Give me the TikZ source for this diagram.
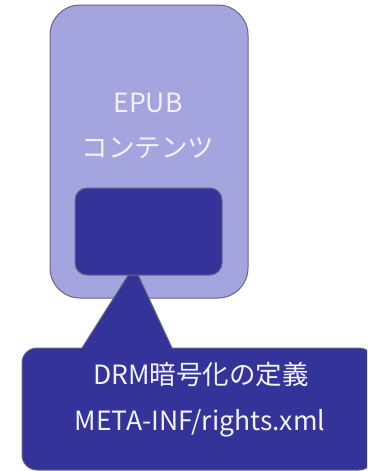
\documentclass[tikz,border=0pt]{standalone}
\usepackage{fontspec}
\usetikzlibrary{calc}
\setmainfont{Noto Sans CJK JP}
\begin{document}
\begin{tikzpicture}[x=1pt,y=-1pt,
  edge/.style={draw=black!80!blue!60,line width=1pt},
  outerbox/.style={edge,fill=outerfill,rounded corners=30pt},
  innerbox/.style={edge,fill=darkfill,rounded corners=12pt},
  calloutbox/.style={edge,fill=darkfill,rounded corners=15pt},
  txt/.style={text=txtcol,font=\fontsize{26.5pt}{30pt}\selectfont,inner sep=0pt}]
\definecolor{outerfill}{HTML}{A4A4DE}
\definecolor{darkfill}{HTML}{333399}
\definecolor{txtcol}{HTML}{F2F2FF}
\useasboundingbox (0,0) rectangle (367,471);
\clip (0,0) rectangle (367,471);
% outer EPUB box
\path[outerbox] (50,5) rectangle (248,298);
\node[txt,anchor=base] (epub) at (148,112) {EPUB};
\node[txt,anchor=base] (contents) at (148,157) {コンテンツ};
% callout with pointer
\path[calloutbox] (22,348) rectangle (374,470);
\coordinate (apex) at (134,266);
\coordinate (baseL) at (82,348);
\coordinate (baseR) at (172,348);
\fill[darkfill] (apex) -- ($(apex)!1.02!(baseL)$) -- ($(apex)!1.02!(baseR)$) -- cycle;
\draw[edge,line cap=round] (baseL) -- (apex) -- (baseR);
% inner DRM box (on top of the pointer tip)
\path[innerbox] (75,188) rectangle (222,275);
\node[txt,anchor=base] (drm) at (201,384) {DRM暗号化の定義};
\node[txt,anchor=base] (rights) at (200,430) {META-INF/rights.xml};
\end{tikzpicture}
\end{document}
